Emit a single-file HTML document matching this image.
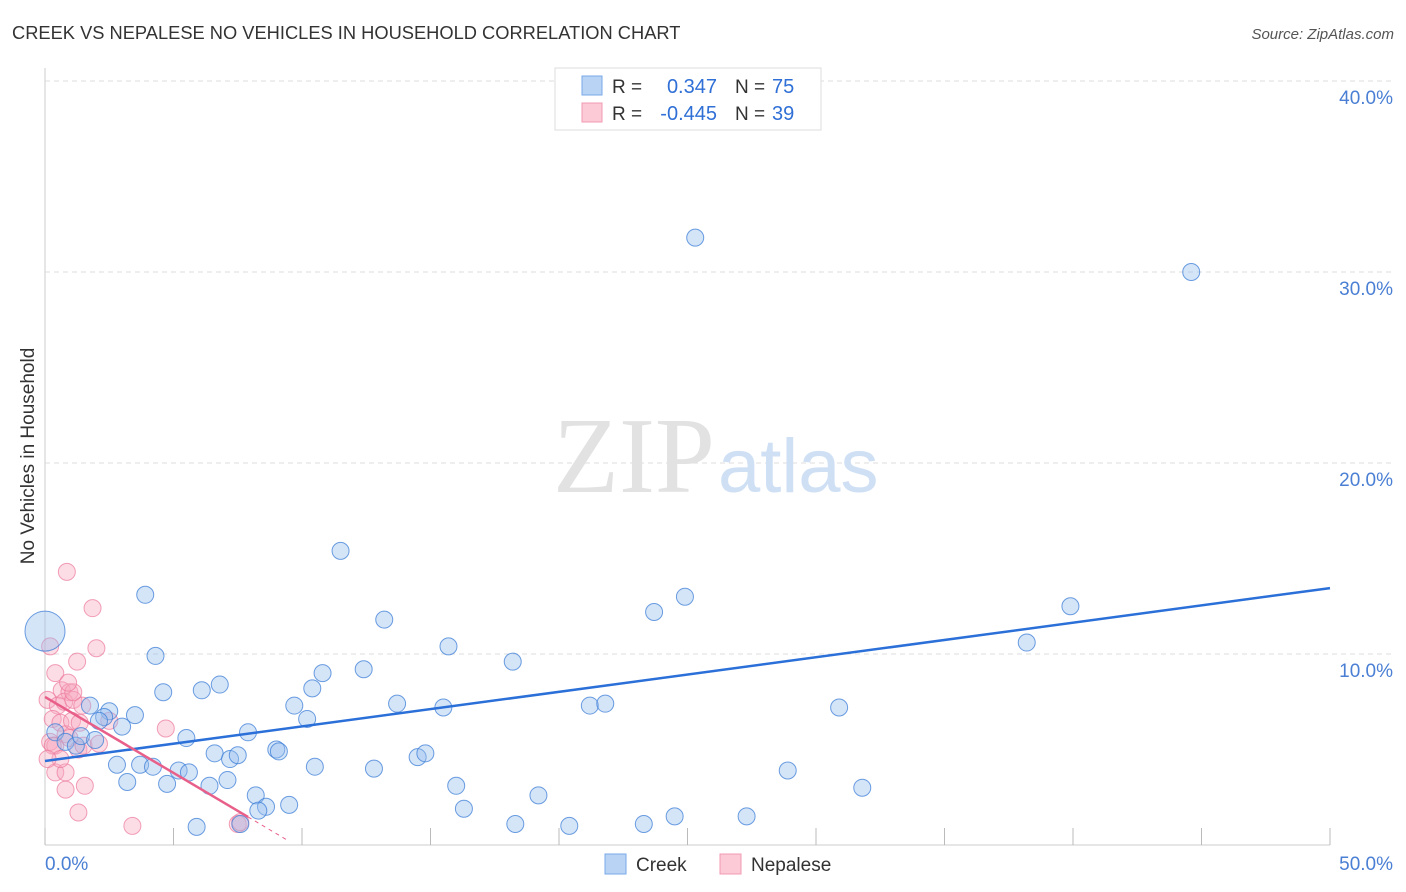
<!DOCTYPE html>
<html><head><meta charset="utf-8"><style>
body{margin:0;background:#fff;font-family:"Liberation Sans",sans-serif;}
svg{display:block}
</style></head><body>
<svg id="chart" width="1406" height="892" xmlns="http://www.w3.org/2000/svg">
<text x="12" y="39" font-size="18.3" fill="#333">CREEK VS NEPALESE NO VEHICLES IN HOUSEHOLD CORRELATION CHART</text>
<text x="1394" y="39" font-size="15" fill="#555" font-style="italic" text-anchor="end">Source: ZipAtlas.com</text>
<text x="34" y="456" font-size="19" fill="#333" text-anchor="middle" transform="rotate(-90 34 456)">No Vehicles in Household</text>
<g id="grid"></g>
<text x="553" y="492" font-size="108" fill="#e2e2e2" font-family="Liberation Serif,serif">ZIP</text>
<text x="718" y="492" font-size="76" fill="#cfe0f5">atlas</text>
<g id="pts"></g>
<g id="lines"></g>
<g>
<rect x="555" y="68" width="266" height="62" fill="#fff" stroke="#ddd"/>
<rect x="582" y="76" width="20" height="19" fill="#b9d3f5" stroke="#7aa8e8"/>
<rect x="582" y="103" width="20" height="19" fill="#fcc9d6" stroke="#f09ab2"/>
<text x="612" y="93" font-size="19" fill="#333">R = </text>
<text x="717" y="93" font-size="20" fill="#2f6fd6" text-anchor="end">0.347</text>
<text x="735" y="93" font-size="19" fill="#333">N = </text>
<text x="772" y="93" font-size="20" fill="#2f6fd6">75</text>
<text x="612" y="120" font-size="19" fill="#333">R = </text>
<text x="717" y="120" font-size="20" fill="#2f6fd6" text-anchor="end">-0.445</text>
<text x="735" y="120" font-size="19" fill="#333">N = </text>
<text x="772" y="120" font-size="20" fill="#2f6fd6">39</text>
</g>
<g>
<rect x="605" y="854" width="21" height="20" fill="#b9d3f5" stroke="#7aa8e8"/>
<text x="636" y="871" font-size="19" fill="#333">Creek</text>
<rect x="720" y="854" width="21" height="20" fill="#fcc9d6" stroke="#f09ab2"/>
<text x="751" y="871" font-size="19" fill="#333">Nepalese</text>
</g>
</svg>
<script>
const yTicks=[10,20,30,40];
const xTickVals=[0,5,10,15,20,25,30,35,40,45,50];
const creekX=[0,3.9,4.3,4.6,2.5,1.75,2.3,3.5,3.0,2.1,0.4,0.8,1.2,1.4,1.95,3.7,4.2,2.8,3.2,4.75,5.2,5.6,5.5,6.1,6.8,6.6,7.2,7.5,6.4,7.1,7.9,9.0,9.1,8.2,8.6,8.3,9.5,5.9,7.6,9.7,10.2,10.4,10.8,10.5,11.5,12.4,13.2,13.7,12.8,14.5,14.8,15.7,15.5,16.0,16.3,18.2,19.2,18.3,20.4,21.2,21.8,23.3,24.5,23.7,24.9,25.3,27.3,28.9,30.9,31.8,38.2,39.9,44.6];
const creekY=[11.2,13.1,9.9,8.0,7.0,7.3,6.7,6.8,6.2,6.5,5.9,5.4,5.2,5.7,5.5,4.2,4.1,4.2,3.3,3.2,3.9,3.8,5.6,8.1,8.4,4.8,4.5,4.7,3.1,3.4,5.9,5.0,4.9,2.6,2.0,1.8,2.1,0.95,1.1,7.3,6.6,8.2,9.0,4.1,15.4,9.2,11.8,7.4,4.0,4.6,4.8,10.4,7.2,3.1,1.9,9.6,2.6,1.1,1.0,7.3,7.4,1.1,1.5,12.2,13.0,31.8,1.5,3.9,7.2,3.0,10.6,12.5,30.0];
const nepX=[0.85,1.85,2.0,0.2,1.25,0.4,0.65,0.95,0.1,0.5,0.75,1.1,1.45,0.3,0.6,0.8,1.05,1.35,0.2,0.4,0.95,1.3,0.3,0.4,0.8,1.55,0.8,1.3,3.4,4.7,7.5,7.6,0.6,0.1,1.1,0.9,2.5,1.5,2.1];
const nepY=[14.3,12.4,10.3,10.4,9.6,9.0,8.1,8.0,7.6,7.3,7.5,7.6,7.3,6.6,6.4,5.8,6.5,6.4,5.4,5.2,5.6,5.0,5.2,3.8,3.8,3.1,2.9,1.7,1.0,6.1,1.1,1.2,4.5,4.5,8.0,8.5,6.5,5.2,5.3];
const creekLine=[4.4,13.45];
const nepLine=[7.75,1.47,7.9,9.5];
const X=v=>45+v*25.7, Y=v=>845-v*19.1;
const NS='http://www.w3.org/2000/svg';
function mk(t,a,p){const e=document.createElementNS(NS,t);for(const k in a)e.setAttribute(k,a[k]);p.appendChild(e);return e;}
const g=document.getElementById('grid');
mk('line',{x1:45,y1:68,x2:45,y2:845,stroke:'#ccc'},g);
mk('line',{x1:45,y1:845,x2:1330,y2:845,stroke:'#ccc'},g);
yTicks.forEach(v=>{
 const l=mk('line',{x1:45,y1:Y(v),x2:1394,y2:Y(v),stroke:'#ddd','stroke-dasharray':'5,4'},g);
 
 
 const t=mk('text',{x:1393,y:Y(v)+23,'font-size':19,fill:'#4a7fd4','text-anchor':'end'},g);
 t.textContent=v.toFixed(1)+'%';
 
 
});
xTickVals.forEach(v=>{
 const l=mk('line',{x1:X(v),y1:828,x2:X(v),y2:845,stroke:'#bbb'},g);
 
 
});
[[0,'start',45],[50,'end',1393]].forEach(([v,a,x])=>{
 const t=mk('text',{x:x,y:870,'font-size':19,fill:'#4a7fd4','text-anchor':a},g);
 t.textContent=v.toFixed(1)+'%';
 
 
});
const p=document.getElementById('pts');
nepX.forEach((x,i)=>{
 const c=mk('circle',{cx:X(x),cy:Y(nepY[i]),r:8.5,fill:'rgba(248,170,192,0.4)',stroke:'rgba(236,120,155,0.7)','stroke-width':1},p);
 
 
});
creekX.forEach((x,i)=>{
 const c=mk('circle',{cx:X(x),cy:Y(creekY[i]),r:i==0?20:8.5,fill:'rgba(150,190,238,0.4)',stroke:'rgba(60,125,215,0.75)','stroke-width':1},p);
 
 
});
const L=document.getElementById('lines');
const bl=mk('line',{x1:X(0),y1:Y(creekLine[0]),x2:X(50),y2:Y(creekLine[1]),stroke:'#2b6fd8','stroke-width':2.5},L);


const slope=(nepLine[1]-nepLine[0])/nepLine[2];
const pl=mk('line',{x1:X(0),y1:Y(nepLine[0]),x2:X(nepLine[2]),y2:Y(nepLine[1]),stroke:'#e8608a','stroke-width':2.5},L);


const pd=mk('line',{x1:X(nepLine[2]),y1:Y(nepLine[1]),x2:X(nepLine[3]),y2:Y(nepLine[0]+slope*nepLine[3]),stroke:'#e8608a','stroke-width':1,'stroke-dasharray':'4,4'},L);


</script>
</body></html>
